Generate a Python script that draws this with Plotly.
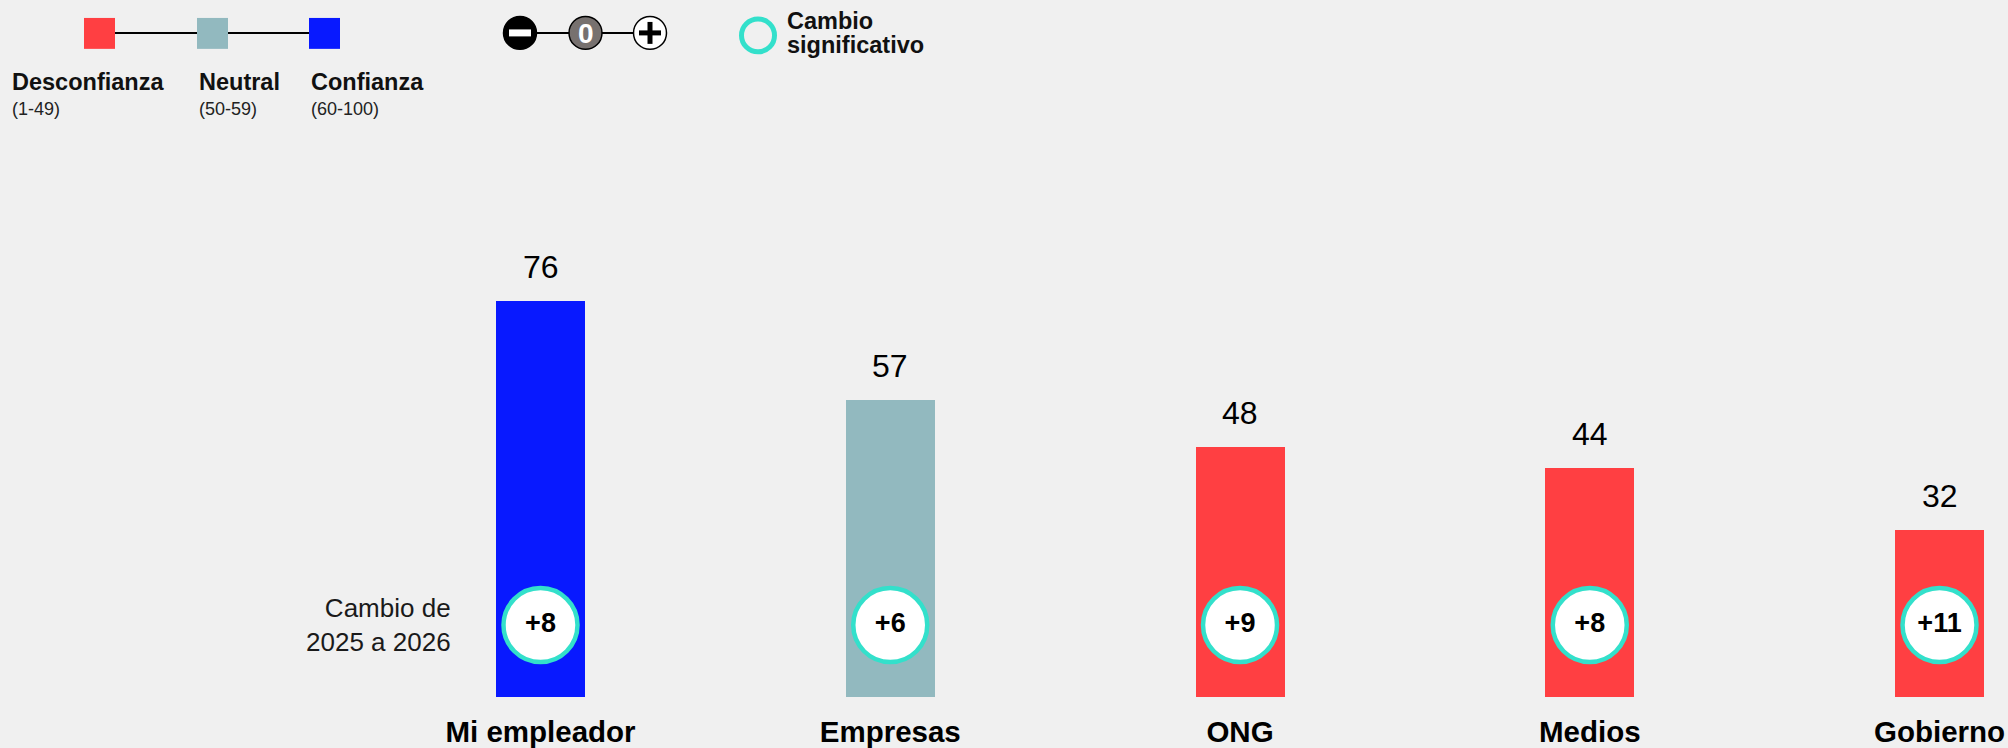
import plotly.graph_objects as go

# data
categories = ["Mi empleador", "Empresas", "ONG", "Medios", "Gobierno"]
trust_2026 = [76, 57, 48, 44, 32]
change_25_26 = [8, 6, 9, 8, 11]
significant = [True, True, True, True, True]

legend_labels = ["Desconfianza", "Neutral", "Confianza"]
legend_ranges = ["(1-49)", "(50-59)", "(60-100)"]

RED = "#ff3f42"
GRAY = "#92b9bf"
BLUE = "#0819ff"
TEAL = "#33e0cb"
BG = "#f0f0f0"
FONT = "Liberation Sans, Arial, sans-serif"

W, H = 2008, 748
B = 49          # bottom margin (px)
PH = H - B      # plot area height (px)


def trust_color(v):
    if v < 50:
        return RED
    if v < 60:
        return GRAY
    return BLUE


# pixel -> paper (paper = plot area, margins l/r/t are 0)
def px(x):
    return x / W


def py(y):
    return 1 - y / PH


x_idx = list(range(len(categories)))

fig = go.Figure()

fig.add_trace(go.Bar(
    x=x_idx,
    y=trust_2026,
    width=0.2545,
    marker=dict(color=[trust_color(v) for v in trust_2026], line=dict(width=0)),
    hoverinfo="skip",
))

# change bubbles near the bottom of each bar
circle_y = 13.8
fig.add_trace(go.Scatter(
    x=x_idx,
    y=[circle_y] * len(categories),
    mode="markers+text",
    text=[f"<b>{c:+d}</b>" for c in change_25_26],
    textposition="middle center",
    textfont=dict(size=27, color="black", family=FONT),
    marker=dict(size=74, color="white",
                line=dict(width=4.5, color=[TEAL if s else "#999999" for s in significant])),
    hoverinfo="skip",
))

annotations = []
for i, v in enumerate(trust_2026):
    annotations.append(dict(
        x=i, y=v, xref="x", yref="y", text=str(v), showarrow=False,
        yanchor="middle", yshift=34,
        font=dict(size=32, color="black", family=FONT),
    ))

annotations.append(dict(
    x=px(453), y=py(627), xref="paper", yref="paper",
    text="Cambio de<br>2025 a 2026", showarrow=False,
    xanchor="right", yanchor="middle", align="right",
    font=dict(size=26, color="#1a1a1a", family=FONT),
))

# legend: trust scale
shapes = [dict(type="line", xref="paper", yref="paper",
               x0=px(100), x1=px(325), y0=py(33), y1=py(33),
               line=dict(color="black", width=2))]
sq_left = [84, 197, 309]
for xl, col in zip(sq_left, [RED, GRAY, BLUE]):
    shapes.append(dict(type="rect", xref="paper", yref="paper",
                       x0=px(xl), x1=px(xl + 31), y0=py(18), y1=py(49),
                       fillcolor=col, line=dict(width=0)))
text_left = [12, 199, 311]
for xl, lab, rng in zip(text_left, legend_labels, legend_ranges):
    annotations.append(dict(x=px(xl - 2), y=py(82), xref="paper", yref="paper",
                            text=f"<b>{lab}</b>", showarrow=False,
                            xanchor="left", yanchor="middle",
                            font=dict(size=23.5, color="#111111", family=FONT)))
    annotations.append(dict(x=px(xl - 2), y=py(109), xref="paper", yref="paper",
                            text=rng, showarrow=False,
                            xanchor="left", yanchor="middle",
                            font=dict(size=18, color="#222222", family=FONT)))

# legend: minus / zero / plus
shapes.append(dict(type="line", xref="paper", yref="paper",
                   x0=px(530), x1=px(640), y0=py(33), y1=py(33),
                   line=dict(color="black", width=2)))
icon_r = 16.5
for cx, fill in zip([520, 585.5, 650], ["black", "#77716f", "white"]):
    shapes.append(dict(type="circle", xref="paper", yref="paper",
                       x0=px(cx - icon_r), x1=px(cx + icon_r),
                       y0=py(33 - icon_r), y1=py(33 + icon_r),
                       fillcolor=fill, line=dict(color="black", width=1.5)))
shapes.append(dict(type="line", xref="paper", yref="paper",
                   x0=px(509), x1=px(531), y0=py(33), y1=py(33),
                   line=dict(color="white", width=7)))
shapes.append(dict(type="line", xref="paper", yref="paper",
                   x0=px(639), x1=px(661), y0=py(33), y1=py(33),
                   line=dict(color="black", width=5)))
shapes.append(dict(type="line", xref="paper", yref="paper",
                   x0=px(650), x1=px(650), y0=py(22), y1=py(44),
                   line=dict(color="black", width=5)))
annotations.append(dict(x=px(585.5), y=py(34), xref="paper", yref="paper",
                        text="<b>0</b>", showarrow=False,
                        xanchor="center", yanchor="middle",
                        font=dict(size=28, color="white", family=FONT)))

# legend: significant change ring
shapes.append(dict(type="circle", xref="paper", yref="paper",
                   x0=px(758 - 16.5), x1=px(758 + 16.5),
                   y0=py(35.5 - 16.5), y1=py(35.5 + 16.5),
                   line=dict(color=TEAL, width=5)))
annotations.append(dict(x=px(785), y=py(21.5), xref="paper", yref="paper",
                        text="<b>Cambio</b>", showarrow=False,
                        xanchor="left", yanchor="middle",
                        font=dict(size=23.5, color="#111111", family=FONT)))
annotations.append(dict(x=px(785), y=py(45.5), xref="paper", yref="paper",
                        text="<b>significativo</b>", showarrow=False,
                        xanchor="left", yanchor="middle",
                        font=dict(size=23.5, color="#111111", family=FONT)))

fig.update_layout(
    width=W, height=H,
    margin=dict(l=0, r=0, t=0, b=B),
    paper_bgcolor=BG, plot_bgcolor=BG,
    showlegend=False,
    font=dict(family=FONT),
    shapes=shapes,
    annotations=annotations,
    bargap=0,
)
fig.update_xaxes(
    range=[-1.5454, 4.1958],
    tickvals=x_idx,
    ticktext=[f"<b>{c}</b>" for c in categories],
    tickfont=dict(size=29.5, color="black", family=FONT),
    ticklabelstandoff=14,
    showgrid=False, zeroline=False, showline=False, ticks="",
    fixedrange=True,
)
fig.update_yaxes(range=[0, 133.8], visible=False, fixedrange=True)

# page has a default body margin; remove it so the figure sits at 0,0
fig.write_html(
    "out.html",
    config={"displayModeBar": False},
    post_script="document.body.style.margin='0';document.body.style.background='%s';" % BG,
)
